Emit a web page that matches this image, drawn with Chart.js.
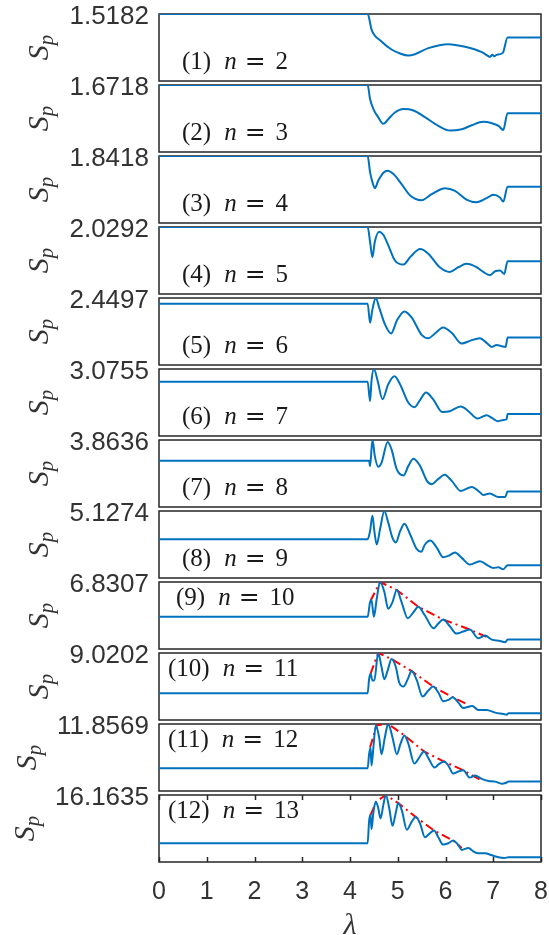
<!DOCTYPE html>
<html>
<head>
<meta charset="utf-8">
<script src="https://cdn.jsdelivr.net/npm/chart.js@4.4.1/dist/chart.umd.min.js"></script>
<style>
  html, body { margin: 0; padding: 0; background: #fff; overflow: hidden; }
  #fig { position: relative; width: 549px; height: 935px; overflow: hidden; }
  .panel { position: absolute; left: 0; width: 549px; }
  .panel canvas { display: block; }
</style>
</head>
<body>
<div id="fig"></div>
<script>
// ---- data ----
var nValues = [2, 3, 4, 5, 6, 7, 8, 9, 10, 11, 12, 13];
var topTicks = ['1.5182', '1.6718', '1.8418', '2.0292', '2.4497', '3.0755',
                '3.8636', '5.1274', '6.8307', '9.0202', '11.8569', '16.1635'];
var yMaxs = [1.5182, 1.6718, 1.8418, 2.0292, 2.4497, 3.0755, 3.8636, 5.1274, 6.8307, 9.0202, 11.8569, 16.1635];
var yMins = [1.0182, 1.1718, 1.3418, 1.5292, 1.4497, 2.0755, 1.8636, 3.1274, 2.8307, 5.0202, 3.8569, 8.1635];
var xTicks = [0, 1, 2, 3, 4, 5, 6, 7, 8];

var lam1 = [0, 4.37, 4.455, 4.66, 4.87, 5.05, 5.22, 5.36, 5.64, 6.06, 6.41, 6.76, 6.88, 6.93, 6.98, 7.02, 7.07, 7.20, 7.30, 8];
var sp1  = [1.5182, 1.5182, 1.3982, 1.3132, 1.2532, 1.2232, 1.2082, 1.2182, 1.2632, 1.2932, 1.2732, 1.2332, 1.2082, 1.1982, 1.2132, 1.2032, 1.2132, 1.2282, 1.3432, 1.3432];

var lam2 = [0, 4.37, 4.42, 4.49, 4.59, 4.70, 4.80, 4.94, 5.12, 5.33, 5.57, 5.85, 6.09, 6.34, 6.55, 6.79, 6.97, 7.11, 7.21, 7.30, 8];
var sp2  = [1.6718, 1.6718, 1.5668, 1.4918, 1.4318, 1.3818, 1.4168, 1.4668, 1.4918, 1.4818, 1.4318, 1.3668, 1.3318, 1.3418, 1.3718, 1.3968, 1.3868, 1.3668, 1.3368, 1.4618, 1.4618];

var lam3 = [0, 4.37, 4.42, 4.47, 4.52, 4.59, 4.70, 4.79, 4.91, 5.08, 5.26, 5.50, 5.71, 5.99, 6.20, 6.44, 6.65, 6.86, 7.00, 7.14, 7.21, 7.30, 8];
var sp3  = [1.8418, 1.8418, 1.7218, 1.6468, 1.6018, 1.6568, 1.7168, 1.7318, 1.7068, 1.6318, 1.5468, 1.5118, 1.5568, 1.6018, 1.5818, 1.5168, 1.4968, 1.5268, 1.5518, 1.5318, 1.5018, 1.6118, 1.6118];

var lam4 = [0, 4.37, 4.42, 4.47, 4.52, 4.61, 4.70, 4.80, 4.94, 5.12, 5.26, 5.47, 5.64, 5.88, 6.09, 6.27, 6.44, 6.65, 6.79, 6.93, 7.04, 7.14, 7.23, 7.30, 8];
var sp4  = [2.0292, 2.0292, 1.9192, 1.8042, 1.9192, 1.9942, 1.9692, 1.8942, 1.7792, 1.7492, 1.8042, 1.8642, 1.8292, 1.7292, 1.6942, 1.7292, 1.7542, 1.7292, 1.6942, 1.6692, 1.6992, 1.7042, 1.6792, 1.7742, 1.7742];

var lam5 = [0, 4.37, 4.42, 4.47, 4.54, 4.61, 4.73, 4.86, 4.98, 5.14, 5.29, 5.50, 5.64, 5.78, 5.95, 6.13, 6.34, 6.51, 6.72, 6.86, 6.97, 7.07, 7.18, 7.26, 7.30, 8];
var sp5  = [2.3647, 2.3647, 2.0797, 2.2797, 2.4497, 2.3097, 2.0597, 1.9197, 2.1097, 2.2497, 2.1597, 1.8997, 1.8497, 1.9197, 2.0097, 1.9297, 1.7697, 1.8097, 1.8497, 1.7797, 1.7197, 1.7497, 1.7297, 1.7197, 1.8597, 1.8597];

var lam6 = [0, 4.37, 4.42, 4.45, 4.50, 4.58, 4.68, 4.80, 4.93, 5.05, 5.22, 5.35, 5.47, 5.59, 5.75, 5.93, 6.09, 6.32, 6.48, 6.67, 6.86, 6.97, 7.09, 7.21, 7.28, 7.30, 8];
var sp6  = [2.8855, 2.8855, 2.5955, 2.8955, 3.0755, 2.8955, 2.6255, 2.8455, 2.9655, 2.8455, 2.5755, 2.5055, 2.6155, 2.7255, 2.6155, 2.4355, 2.4455, 2.5155, 2.4455, 2.3355, 2.3855, 2.3455, 2.2955, 2.3155, 2.3255, 2.4055, 2.4055];

var lam7 = [0, 4.40, 4.42, 4.47, 4.52, 4.59, 4.66, 4.79, 4.87, 4.98, 5.12, 5.22, 5.33, 5.47, 5.61, 5.71, 5.85, 5.98, 6.13, 6.32, 6.55, 6.72, 6.79, 6.93, 7.11, 7.25, 7.30, 8];
var sp7  = [3.2436, 3.2436, 3.0836, 3.8636, 3.3836, 3.0636, 3.1836, 3.8036, 3.5836, 2.9836, 2.8036, 3.0836, 3.3036, 3.0836, 2.6436, 2.5436, 2.7036, 2.8236, 2.6436, 2.3436, 2.4636, 2.3036, 2.2236, 2.2636, 2.1636, 2.1636, 2.3236, 2.3236];

var lam8 = [0, 4.37, 4.42, 4.47, 4.51, 4.56, 4.63, 4.72, 4.80, 4.89, 4.96, 5.05, 5.14, 5.26, 5.40, 5.49, 5.57, 5.68, 5.82, 5.95, 6.06, 6.20, 6.34, 6.51, 6.72, 6.90, 7.00, 7.11, 7.21, 7.30, 8];
var sp8  = [4.2874, 4.2874, 4.5274, 4.9874, 4.5274, 4.1274, 4.5874, 5.1274, 4.7874, 4.3274, 4.1874, 4.5274, 4.7474, 4.4274, 3.9874, 3.9074, 4.1274, 4.2474, 4.0274, 3.7474, 3.7874, 3.8874, 3.7274, 3.5274, 3.6274, 3.4874, 3.4274, 3.4474, 3.3874, 3.5074, 3.5074];

var lam9 = [0, 4.37, 4.42, 4.45, 4.50, 4.56, 4.63, 4.72, 4.80, 4.89, 4.98, 5.08, 5.21, 5.33, 5.43, 5.57, 5.75, 5.85, 5.95, 6.09, 6.23, 6.37, 6.51, 6.69, 6.83, 6.97, 7.14, 7.25, 7.30, 8];
var sp9  = [4.7507, 4.7507, 5.6307, 5.7507, 4.7507, 5.8307, 6.8307, 6.2307, 5.2307, 5.6307, 6.3507, 5.6307, 4.6707, 5.0307, 5.3507, 4.8307, 4.0707, 4.3507, 4.5907, 4.1907, 3.7507, 3.8707, 3.9907, 3.4707, 3.6307, 3.3907, 3.3107, 3.2307, 3.3907, 3.3907];

var lam10 = [0, 4.37, 4.40, 4.43, 4.47, 4.51, 4.59, 4.66, 4.72, 4.79, 4.87, 4.96, 5.03, 5.12, 5.21, 5.29, 5.40, 5.52, 5.64, 5.74, 5.85, 5.95, 6.06, 6.15, 6.27, 6.37, 6.56, 6.69, 6.86, 7.04, 7.21, 7.28, 7.32, 8];
var sp10  = [6.6202, 6.6202, 7.4602, 7.7802, 7.3802, 7.3802, 9.0202, 8.1802, 7.4602, 7.9802, 8.6602, 8.1802, 7.2602, 7.0202, 7.4602, 7.9402, 7.3802, 6.4202, 6.7802, 7.0202, 6.6602, 6.1402, 6.2202, 6.3802, 6.0602, 5.7402, 5.8602, 5.6202, 5.6202, 5.4602, 5.3802, 5.3402, 5.4202, 5.4202];

var lam11 = [0, 4.37, 4.40, 4.43, 4.45, 4.49, 4.54, 4.61, 4.66, 4.73, 4.80, 4.89, 4.98, 5.06, 5.14, 5.22, 5.35, 5.45, 5.55, 5.65, 5.77, 5.86, 5.97, 6.06, 6.16, 6.27, 6.37, 6.51, 6.62, 6.76, 6.90, 7.04, 7.18, 7.26, 7.32, 8];
var sp11  = [6.5769, 6.5769, 8.2569, 9.0569, 6.8969, 9.0569, 11.6969, 10.2569, 8.2569, 10.2569, 11.8569, 10.2569, 8.2569, 9.5369, 10.4969, 9.5369, 7.1369, 7.8569, 8.5769, 7.6969, 6.6569, 7.0569, 7.3769, 6.8969, 5.9369, 6.1769, 6.3369, 5.4569, 5.6969, 5.2969, 5.0569, 4.9769, 4.7369, 4.8169, 4.9769, 4.9769];

var lam12 = [0, 4.37, 4.40, 4.43, 4.45, 4.49, 4.54, 4.59, 4.64, 4.70, 4.75, 4.82, 4.89, 4.96, 5.01, 5.09, 5.19, 5.29, 5.38, 5.47, 5.57, 5.66, 5.76, 5.85, 5.95, 6.06, 6.16, 6.27, 6.34, 6.48, 6.58, 6.69, 6.83, 6.97, 7.11, 7.23, 7.32, 8];
var sp12  = [10.4035, 10.4035, 13.0435, 13.8435, 12.0835, 14.0835, 15.3635, 14.6435, 13.3635, 15.0435, 16.1635, 14.6435, 12.4835, 14.0835, 15.2035, 14.2435, 12.0035, 12.9635, 13.5235, 12.7235, 11.1235, 11.5235, 11.9235, 11.1235, 10.2435, 10.4035, 10.7235, 10.1635, 9.6035, 9.8435, 9.4435, 9.2035, 9.2035, 8.9635, 8.7235, 8.6435, 8.7235, 8.7235];

// red dash-dot envelopes through the peaks (panels 9-12)
var envLam9  = [4.43, 4.63, 4.98, 5.43, 5.95, 6.51, 6.86];
var envSp9   = [5.7107, 6.8307, 6.3507, 5.3507, 4.5907, 3.9907, 3.5507];
var envLam10 = [4.43, 4.59, 4.87, 5.29, 5.74, 6.15, 6.44];
var envSp10  = [7.7802, 9.0202, 8.6602, 7.9402, 7.0202, 6.3802, 5.9802];
var envLam11 = [4.42, 4.56, 4.80, 5.14, 5.55, 5.97, 6.37, 6.72];
var envSp11  = [9.0569, 11.6969, 11.8569, 10.4969, 8.5769, 7.3769, 6.3369, 5.2169];
var envLam12 = [4.43, 4.55, 4.75, 5.01, 5.38, 5.76, 6.16, 6.34];
var envSp12  = [13.7635, 15.3635, 16.1635, 15.2035, 13.5235, 11.9235, 10.7235, 9.8435];

var lams = [lam1, lam2, lam3, lam4, lam5, lam6, lam7, lam8, lam9, lam10, lam11, lam12];
var sps  = [sp1, sp2, sp3, sp4, sp5, sp6, sp7, sp8, sp9, sp10, sp11, sp12];
var envLams = {8: envLam9, 9: envLam10, 10: envLam11, 11: envLam12};
var envSps  = {8: envSp9, 9: envSp10, 10: envSp11, 11: envSp12};

// ---- layout ----
// the y tick label (line height 36 + padding 10) reserves 28px above and below each plot
var PANEL_TOP = 14, PANEL_PITCH = 71, PANEL_H = 67;
var PAD = 28, AXIS_H = 85;
var AXIS_W = 159;
var INK = '#262626';
var SERIF = '"Liberation Serif", "DejaVu Serif", serif';

Chart.defaults.font.family = '"Liberation Sans", Arial, sans-serif';
Chart.defaults.color = '#333';

function toXY(xs, ys) {
    return xs.map(function (x, k) { return { x: x, y: ys[k] }; });
}

// frame, inner ticks, panel caption and S_p label
var panelDecor = {
    id: 'panelDecor',
    beforeDatasetsDraw: function (chart, args, opts) {
        var a = chart.chartArea, ctx = chart.ctx;
        ctx.save();
        ctx.strokeStyle = INK;
        ctx.lineWidth = 1.5;
        ctx.strokeRect(a.left, a.top, a.right - a.left, a.bottom - a.top);
        if (opts.last) {
            var xs = chart.scales.x;
            ctx.beginPath();
            xTicks.forEach(function (v) {
                var px = Math.round(xs.getPixelForValue(v)) + 0.5;
                ctx.moveTo(px, a.top); ctx.lineTo(px, a.top + 5);
                ctx.moveTo(px, a.bottom); ctx.lineTo(px, a.bottom - 5);
            });
            ctx.stroke();
        }
        ctx.restore();
    },
    afterDraw: function (chart, args, opts) {
        var a = chart.chartArea, ctx = chart.ctx, i = opts.index;
        ctx.save();
        ctx.fillStyle = '#1a1a1a';
        ctx.textBaseline = 'alphabetic';
        ctx.textAlign = 'left';

        // caption "(k) n = N"
        var x = i < 8 ? 182 : (i === 8 ? 176 : 168);
        var y = a.top + (i < 8 ? 55 : 23);
        var segs = [
            ['(' + (i + 1) + ')', 'normal 25px ' + SERIF, 13],
            ['n', 'italic 25px ' + SERIF, 8],
            ['=', 'normal 25px "DejaVu Serif", serif', 10],
            [String(nValues[i]), 'normal 25px ' + SERIF, 0]
        ];
        segs.forEach(function (s) {
            ctx.font = s[1];
            ctx.fillText(s[0], x, y);
            x += ctx.measureText(s[0]).width + s[2];
        });

        // rotated axis title S_p
        ctx.font = '26px "Liberation Sans", Arial, sans-serif';
        var labelLeft = AXIS_W - 10 - ctx.measureText(topTicks[i]).width;
        var cx = labelLeft - 21;
        var cy = (a.top + a.bottom) / 2;
        ctx.translate(cx, cy);
        ctx.rotate(-Math.PI / 2);
        ctx.fillStyle = '#333';
        ctx.font = 'italic 30px ' + SERIF;
        var wS = ctx.measureText('S').width;
        ctx.font = 'italic 21px ' + SERIF;
        var wp = ctx.measureText('p').width;
        var x0 = -(wS + wp) / 2;
        ctx.font = 'italic 30px ' + SERIF;
        ctx.fillText('S', x0, 0);
        ctx.font = 'italic 21px ' + SERIF;
        ctx.fillText('p', x0 + wS, 5);
        ctx.restore();
    }
};

var fig = document.getElementById('fig');

for (var i = 0; i < 12; i++) {
    (function (i) {
        var last = i === 11;
        var top = PANEL_TOP + i * PANEL_PITCH;
        var div = document.createElement('div');
        div.className = 'panel';
        div.style.top = (top - PAD) + 'px';
        div.style.height = (PAD + PANEL_H + (last ? AXIS_H : PAD)) + 'px';
        var canvas = document.createElement('canvas');
        div.appendChild(canvas);
        fig.appendChild(div);

        var datasets = [{
            data: toXY(lams[i], sps[i]),
            borderColor: '#0072BD',
            borderWidth: 2,
            pointRadius: 0,
            cubicInterpolationMode: 'monotone'
        }];
        if (envLams[i]) {
            datasets.push({
                data: toXY(envLams[i], envSps[i]),
                borderColor: '#FF0000',
                borderWidth: 2,
                borderDash: [9, 4, 2, 4],
                pointRadius: 0,
                tension: 0
            });
        }

        new Chart(canvas.getContext('2d'), {
            type: 'line',
            data: { datasets: datasets },
            options: {
                responsive: true,
                maintainAspectRatio: false,
                animation: false,
                events: [],
                layout: { padding: { top: 0, bottom: 0, left: 0, right: 8 } },
                scales: {
                    x: {
                        type: 'linear',
                        min: 0,
                        max: 8,
                        display: last,
                        border: { display: false },
                        // invisible tick marks only push the labels down
                        grid: {
                            display: true,
                            drawOnChartArea: false,
                            drawTicks: true,
                            tickLength: 15,
                            tickColor: 'rgba(0,0,0,0)'
                        },
                        ticks: {
                            stepSize: 1,
                            autoSkip: false,
                            maxRotation: 0,
                            padding: 0,
                            color: '#333',
                            font: { size: 25 }
                        },
                        title: {
                            display: true,
                            text: 'λ',
                            color: '#333',
                            font: { family: SERIF, style: 'italic', size: 30 },
                            padding: { top: 1, bottom: 3 }
                        }
                    },
                    y: {
                        min: yMins[i],
                        max: yMaxs[i],
                        border: { display: false },
                        grid: { display: false, drawTicks: false },
                        afterBuildTicks: function (scale) { scale.ticks = [{ value: yMaxs[i] }]; },
                        afterFit: function (scale) { scale.width = AXIS_W; },
                        ticks: {
                            callback: function () { return topTicks[i]; },
                            padding: 10,
                            labelOffset: 3,
                            color: '#333',
                            font: { size: 26, lineHeight: '36px' }
                        }
                    }
                },
                plugins: {
                    legend: { display: false },
                    tooltip: { enabled: false },
                    panelDecor: { index: i, last: last }
                }
            },
            plugins: [panelDecor]
        });
    })(i);
}
</script>
</body>
</html>
